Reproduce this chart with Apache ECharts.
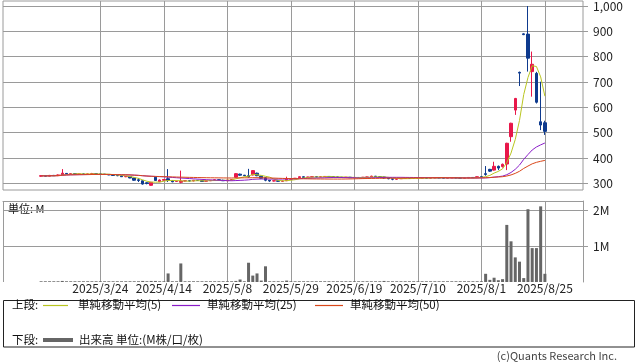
<!DOCTYPE html>
<html><head><meta charset="utf-8">
<script src="https://cdn.jsdelivr.net/npm/echarts@6/dist/echarts.min.js"></script>
<style>html,body{margin:0;padding:0;background:#fff}#c{width:638px;height:362px}</style>
</head><body><div id="c"></div>
<script>
// empty slots before the data on the category axis
const leadDates = ['2025/2/17','2025/2/18','2025/2/19','2025/2/20','2025/2/21','2025/2/25','2025/2/26','2025/2/27','2025/2/28'];
// trading days with data
const dates = [
'2025/3/3','2025/3/4','2025/3/5','2025/3/6','2025/3/7','2025/3/10','2025/3/11','2025/3/12','2025/3/13','2025/3/14',
'2025/3/17','2025/3/18','2025/3/19','2025/3/21','2025/3/24','2025/3/25','2025/3/26','2025/3/27','2025/3/28','2025/3/31',
'2025/4/1','2025/4/2','2025/4/3','2025/4/4','2025/4/7','2025/4/8','2025/4/9','2025/4/10','2025/4/11','2025/4/14',
'2025/4/15','2025/4/16','2025/4/17','2025/4/18','2025/4/21','2025/4/22','2025/4/23','2025/4/24','2025/4/25','2025/4/28',
'2025/4/30','2025/5/1','2025/5/2','2025/5/7','2025/5/8','2025/5/9','2025/5/12','2025/5/13','2025/5/14','2025/5/15',
'2025/5/16','2025/5/19','2025/5/20','2025/5/21','2025/5/22','2025/5/23','2025/5/26','2025/5/27','2025/5/28','2025/5/29',
'2025/5/30','2025/6/2','2025/6/3','2025/6/4','2025/6/5','2025/6/6','2025/6/9','2025/6/10','2025/6/11','2025/6/12',
'2025/6/13','2025/6/16','2025/6/17','2025/6/18','2025/6/19','2025/6/20','2025/6/23','2025/6/24','2025/6/25','2025/6/26',
'2025/6/27','2025/6/30','2025/7/1','2025/7/2','2025/7/3','2025/7/4','2025/7/7','2025/7/8','2025/7/9','2025/7/10',
'2025/7/11','2025/7/14','2025/7/15','2025/7/16','2025/7/17','2025/7/18','2025/7/22','2025/7/23','2025/7/24','2025/7/25',
'2025/7/28','2025/7/29','2025/7/30','2025/7/31','2025/8/1','2025/8/4','2025/8/5','2025/8/6','2025/8/7','2025/8/8',
'2025/8/12','2025/8/13','2025/8/14','2025/8/15','2025/8/18','2025/8/19','2025/8/20','2025/8/21','2025/8/22','2025/8/25'];
// empty slots after the data
const trailDates = ['2025/8/26','2025/8/27','2025/8/28','2025/8/29','2025/9/1','2025/9/2','2025/9/3','2025/9/4','2025/9/5'];

const opens = [
328,330,328,331,330,333,339,337,338,336, 337,336,337,338,337,336,335,333,331,330,
326,327,321,314,310,302,292,324,306,312, 318,310,307,304,309,310,309,312,311,308,
310,312,314,312,310,313,324,336,332,330, 333,340,328,322,312,309,310,308,310,316,
318,322,326,323,325,326,325,326,327,326, 325,324,323,324,322,323,322,324,325,328,
326,325,321,318,316,318,319,320,319,320, 320,321,320,321,322,321,320,321,322,321,
320,321,323,322,326,338,355,352,367,366, 376,484,589,738,890,889,741,734,543,539];
const closes = [
330,328,331,330,333,340,337,338,336,337, 336,337,338,337,336,335,333,331,330,326,
327,321,312,311,297,299,304,311,313,315, 311,306,308,309,310,309,312,311,307,310,
312,314,312,310,313,315,338,332,330,326, 350,330,320,312,309,310,308,309,316,318,
320,326,323,325,326,325,326,327,326,325, 324,323,324,322,323,322,324,325,328,326,
325,321,318,316,318,319,320,319,320,320, 321,320,321,322,321,320,321,322,321,320,
321,323,322,326,325,335,348,367,360,375, 458,537,635,735,887,794,770,620,530,505];
const lows = [
326,326,327,329,329,332,336,336,335,335, 335,335,336,336,335,334,332,330,328,325,
324,320,310,305,295,296,290,309,305,310, 305,304,305,300,307,307,308,309,305,307,
309,311,311,309,309,312,322,330,328,322, 331,328,318,308,306,307,306,306,309,315,
317,321,321,322,324,324,324,325,325,324, 323,322,322,321,321,321,321,323,324,325,
324,318,316,312,314,317,318,318,318,319, 319,319,319,320,320,319,319,320,320,319,
319,320,321,321,323,330,345,350,352,362, 352,464,570,684,885,741,642,615,510,491];
const highs = [
332,331,333,333,335,356,340,339,339,338, 338,338,341,339,338,337,336,334,332,331,
328,328,322,320,311,304,305,325,315,317, 356,311,310,350,312,311,313,313,312,311,
313,315,315,314,314,316,340,338,333,357, 352,342,329,324,313,311,311,310,326,319,
321,327,327,326,327,327,327,328,328,327, 326,325,325,325,324,324,325,326,330,329,
327,326,322,319,319,320,321,321,321,321, 322,322,322,323,323,322,322,323,323,322,
322,324,324,327,328,368,357,385,370,378, 460,539,637,741,892,1000,820,740,701,547];
// volume in millions
const volumes = [
0.02,0.02,0.02,0.02,0.02,0.03,0.02,0.02,0.02,0.02, 0.02,0.02,0.02,0.02,0.02,0.02,0.02,0.02,0.02,0.02,
0.02,0.02,0.02,0.02,0.03,0.02,0.03,0.03,0.02,0.02, 0.24,0.02,0.02,0.52,0.02,0.02,0.02,0.02,0.02,0.02,
0.02,0.02,0.02,0.02,0.02,0.02,0.03,0.07,0.02,0.54, 0.18,0.24,0.04,0.44,0.02,0.02,0.02,0.02,0.04,0.02,
0.02,0.02,0.02,0.02,0.02,0.02,0.02,0.02,0.02,0.02, 0.02,0.02,0.02,0.02,0.02,0.02,0.02,0.02,0.02,0.02,
0.02,0.03,0.02,0.02,0.02,0.02,0.02,0.02,0.02,0.02, 0.02,0.02,0.02,0.02,0.02,0.02,0.02,0.02,0.02,0.02,
0.02,0.02,0.02,0.02,0.02,0.23,0.06,0.12,0.05,0.08, 1.60,1.14,0.69,0.57,0.11,2.04,0.95,0.95,2.12,0.23];

const priceTicks = [300,400,500,600,700,800,900,1000];
const volumeTicks = [1,2];
const dateLabels = ['2025/3/24','2025/4/14','2025/5/8','2025/5/29','2025/6/19','2025/7/10','2025/8/1','2025/8/25'];
const maPeriods = [5,25,50];
const maNames = ['単純移動平均(5)','単純移動平均(25)','単純移動平均(50)'];

const FONT = '"Noto Sans CJK JP", "Noto Sans", sans-serif';
const GRID = '#9a9a9a';
const UP = '#e8174a', DOWN = '#0e3a8e';
const MA_COLORS = ['#b9c520','#8a1cc8','#d9471a'];
const LEG = 11.5;

const cats = leadDates.concat(dates, trailDates);
const pad = arr => leadDates.map(() => '-').concat(arr, trailDates.map(() => '-'));
function sma(vals, n) {
  return vals.map((v, i) => {
    const s = vals.slice(Math.max(0, i - n + 1), i + 1);
    return +(s.reduce((a, b) => a + b, 0) / s.length).toFixed(2);
  });
}
const candle = pad(dates.map((d, i) => [opens[i], closes[i], lows[i], highs[i]]));
const isGrid = i => dateLabels.indexOf(cats[i]) >= 0;
const isGridEdge = i => i === 0 || i === cats.length - 1 || isGrid(i);

const chart = echarts.init(document.getElementById('c'), null, {renderer: 'canvas'});
const option = {
  animation: false,
  textStyle: {fontFamily: FONT},
  grid: [
    {left: 3, right: 55, top: 1, height: 189, show: true, borderColor: GRID, borderWidth: 1},
    {left: 3, right: 55, top: 201, height: 81}
  ],
  xAxis: [
    {gridIndex: 0, type: 'category', data: cats, boundaryGap: false,
     axisLine: {show: false}, axisTick: {show: false}, axisLabel: {show: false},
     splitLine: {show: true, interval: (i) => isGrid(i), lineStyle: {color: GRID, width: 1}}},
    {gridIndex: 1, type: 'category', data: cats, boundaryGap: false, position: 'bottom',
     axisLine: {show: false}, axisTick: {show: false},
     axisLabel: {interval: (i) => isGrid(i), margin: 0, fontSize: 12, color: '#222', fontFamily: FONT},
     splitLine: {show: true, interval: (i) => isGridEdge(i), lineStyle: {color: GRID, width: 1}}},
    {gridIndex: 1, type: 'category', data: cats, boundaryGap: false, position: 'top',
     axisLine: {show: true, onZero: false, lineStyle: {color: GRID, width: 1}}, axisTick: {show: false},
     axisLabel: {show: false}, splitLine: {show: false}}
  ],
  yAxis: [
    {gridIndex: 0, type: 'value', position: 'right', min: 273.5, max: 1019.7, scale: true,
     axisLine: {show: false},
     axisTick: {show: true, length: 5, customValues: priceTicks, lineStyle: {color: GRID}},
     axisLabel: {customValues: priceTicks, margin: 10, fontSize: 12, color: '#222', fontFamily: FONT,
                 formatter: v => Number(v).toLocaleString('en-US')},
     splitLine: {show: true, lineStyle: {color: GRID, width: 1}}},
    {gridIndex: 1, type: 'value', position: 'right', min: 0, max: 2.27,
     axisLine: {show: true, lineStyle: {color: GRID, width: 1}},
     axisTick: {show: true, length: 5, customValues: volumeTicks, lineStyle: {color: GRID}},
     axisLabel: {customValues: volumeTicks, margin: 10, fontSize: 12, color: '#222', fontFamily: FONT,
                 formatter: v => v + 'M'},
     splitLine: {show: true, lineStyle: {color: GRID, width: 1}}}
  ],
  series: [
    {type: 'candlestick', xAxisIndex: 0, yAxisIndex: 0, data: candle, barWidth: 3,
     itemStyle: {color: UP, color0: DOWN, borderColor: UP, borderColor0: DOWN, borderWidth: 1}},
    ...maPeriods.map((n, k) => ({
      type: 'line', name: maNames[k], xAxisIndex: 0, yAxisIndex: 0, data: pad(sma(closes, n)),
      symbol: 'none', showSymbol: false, lineStyle: {color: MA_COLORS[k], width: 1}, z: 3
    })),
    {type: 'bar', xAxisIndex: 1, yAxisIndex: 1, data: pad(volumes), barWidth: 3,
     itemStyle: {color: '#666'}}
  ],
  graphic: [
    {type: 'text', x: 8, y: 209, style: {text: '単位: M', fontSize: 11, fontFamily: FONT, fill: '#111', verticalAlign: 'middle'}},
    {type: 'rect', shape: {x: 3.5, y: 300.5, width: 631, height: 46.5}, style: {fill: 'none', stroke: '#222', lineWidth: 1}},
    {type: 'text', x: 12, y: 305, style: {text: '上段:', fontSize: LEG, fontFamily: FONT, fill: '#111', verticalAlign: 'middle'}},
    {type: 'line', shape: {x1: 43, y1: 305.5, x2: 68, y2: 305.5}, style: {stroke: MA_COLORS[0], lineWidth: 1.2}},
    {type: 'text', x: 78, y: 305, style: {text: maNames[0], fontSize: LEG, fontFamily: FONT, fill: '#111', verticalAlign: 'middle'}},
    {type: 'line', shape: {x1: 172, y1: 305.5, x2: 200, y2: 305.5}, style: {stroke: MA_COLORS[1], lineWidth: 1.2}},
    {type: 'text', x: 207, y: 305, style: {text: maNames[1], fontSize: LEG, fontFamily: FONT, fill: '#111', verticalAlign: 'middle'}},
    {type: 'line', shape: {x1: 315, y1: 305.5, x2: 343, y2: 305.5}, style: {stroke: MA_COLORS[2], lineWidth: 1.2}},
    {type: 'text', x: 350, y: 305, style: {text: maNames[2], fontSize: LEG, fontFamily: FONT, fill: '#111', verticalAlign: 'middle'}},
    {type: 'text', x: 12, y: 340, style: {text: '下段:', fontSize: LEG, fontFamily: FONT, fill: '#111', verticalAlign: 'middle'}},
    {type: 'line', shape: {x1: 43, y1: 340, x2: 73, y2: 340}, style: {stroke: '#666', lineWidth: 4}},
    {type: 'text', x: 79, y: 340, style: {text: '出来高 単位:(M株/口/枚)', fontSize: LEG, fontFamily: FONT, fill: '#111', verticalAlign: 'middle'}},
    {type: 'text', x: 617, y: 356, style: {text: '(c)Quants Research Inc.', fontSize: 11, fontFamily: FONT, fill: '#444', align: 'right', verticalAlign: 'middle'}}
  ]
};
chart.setOption(option);
</script>
</body></html>
